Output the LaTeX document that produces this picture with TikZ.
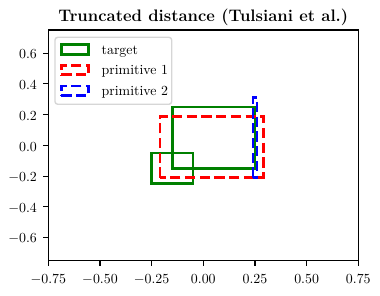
\documentclass[tikz,border=0pt]{standalone}
\usepackage{amsmath,amssymb}
\usepackage{tikz}
\usetikzlibrary{positioning}

\definecolor{mplgreen}{HTML}{008000}
\tikzset{
  target/.style={draw=mplgreen, line width=2pt},
  primone/.style={draw=red, line width=2pt, dash pattern=on 7.4pt off 3.2pt},
  primtwo/.style={draw=blue, line width=2pt, dash pattern=on 7.4pt off 3.2pt},
  spine/.style={line width=0.8pt},
  tickmark/.style={line width=0.8pt},
  xlab/.style={anchor=north, inner sep=0pt, yshift=-9.5pt},
  ylab/.style={anchor=east, inner sep=0pt, xshift=-8pt, yshift=-1pt},
  handle/.style={inner sep=0pt, minimum width=19.6pt, minimum height=7pt},
  legtext/.style={inner sep=0pt, anchor=base west, yshift=-3.3pt}
}

\begin{document}
\begin{tikzpicture}[x=148.8pt, y=110.74pt]
\useasboundingbox (-0.9837,-0.973) rectangle (0.855,0.945);
\coordinate (LL) at (-0.75,-0.75);
\coordinate (UR) at (0.75,0.75);
% boxes
\draw[target] (-0.15,-0.15) rectangle (0.25,0.25);
\draw[target] (-0.25,-0.25) rectangle (-0.05,-0.05);
\draw[primone] (-0.21,-0.21) rectangle (0.29,0.19);
\draw[primtwo] (0.24,-0.21) rectangle (0.26,0.31);
% axes
\draw[spine] (LL) rectangle (UR);
\draw[tickmark] (-0.75,-0.75) -- ++(0pt,-3.5pt);
\draw[tickmark] (-0.5,-0.75) -- ++(0pt,-3.5pt);
\draw[tickmark] (-0.25,-0.75) -- ++(0pt,-3.5pt);
\draw[tickmark] (0,-0.75) -- ++(0pt,-3.5pt);
\draw[tickmark] (0.25,-0.75) -- ++(0pt,-3.5pt);
\draw[tickmark] (0.5,-0.75) -- ++(0pt,-3.5pt);
\draw[tickmark] (0.75,-0.75) -- ++(0pt,-3.5pt);
\draw[tickmark] (-0.75,-0.6) -- ++(-3.5pt,0pt);
\draw[tickmark] (-0.75,-0.4) -- ++(-3.5pt,0pt);
\draw[tickmark] (-0.75,-0.2) -- ++(-3.5pt,0pt);
\draw[tickmark] (-0.75,0) -- ++(-3.5pt,0pt);
\draw[tickmark] (-0.75,0.2) -- ++(-3.5pt,0pt);
\draw[tickmark] (-0.75,0.4) -- ++(-3.5pt,0pt);
\draw[tickmark] (-0.75,0.6) -- ++(-3.5pt,0pt);
\node[xlab] (x1) at (-0.75,-0.75) {$-0.75$};
\node[xlab] (x2) at (-0.5,-0.75) {$-0.50$};
\node[xlab] (x3) at (-0.25,-0.75) {$-0.25$};
\node[xlab] (x4) at (0,-0.75) {$0.00$};
\node[xlab] (x5) at (0.25,-0.75) {$0.25$};
\node[xlab] (x6) at (0.5,-0.75) {$0.50$};
\node[xlab] (x7) at (0.75,-0.75) {$0.75$};
\node[ylab] (y1) at (-0.75,-0.6) {$-0.6$};
\node[ylab] (y2) at (-0.75,-0.4) {$-0.4$};
\node[ylab] (y3) at (-0.75,-0.2) {$-0.2$};
\node[ylab] (y4) at (-0.75,0) {$0.0$};
\node[ylab] (y5) at (-0.75,0.2) {$0.2$};
\node[ylab] (y6) at (-0.75,0.4) {$0.4$};
\node[ylab] (y7) at (-0.75,0.6) {$0.6$};
\node[anchor=base, inner sep=0pt, yshift=6pt, font=\large\bfseries] (title) at (0,0.75) {Truncated distance (Tulsiani et al.)};
% legend
\draw[draw=black!16, fill=white, line width=1pt, rounded corners=2pt] (-0.7176,0.2669) rectangle (-0.1529,0.7025);
\node[handle, target] (hTarget) at (-0.6208,0.6232) {};
\node[handle, primone] (hPrimOne) at (-0.6208,0.4899) {};
\node[handle, primtwo] (hPrimTwo) at (-0.6208,0.3547) {};
\node[legtext, right=8.2pt of hTarget, anchor=base west] (tTarget) {target};
\node[legtext, right=8.2pt of hPrimOne, anchor=base west] (tPrimOne) {primitive 1};
\node[legtext, right=8.2pt of hPrimTwo, anchor=base west] (tPrimTwo) {primitive 2};
\end{tikzpicture}
\end{document}
